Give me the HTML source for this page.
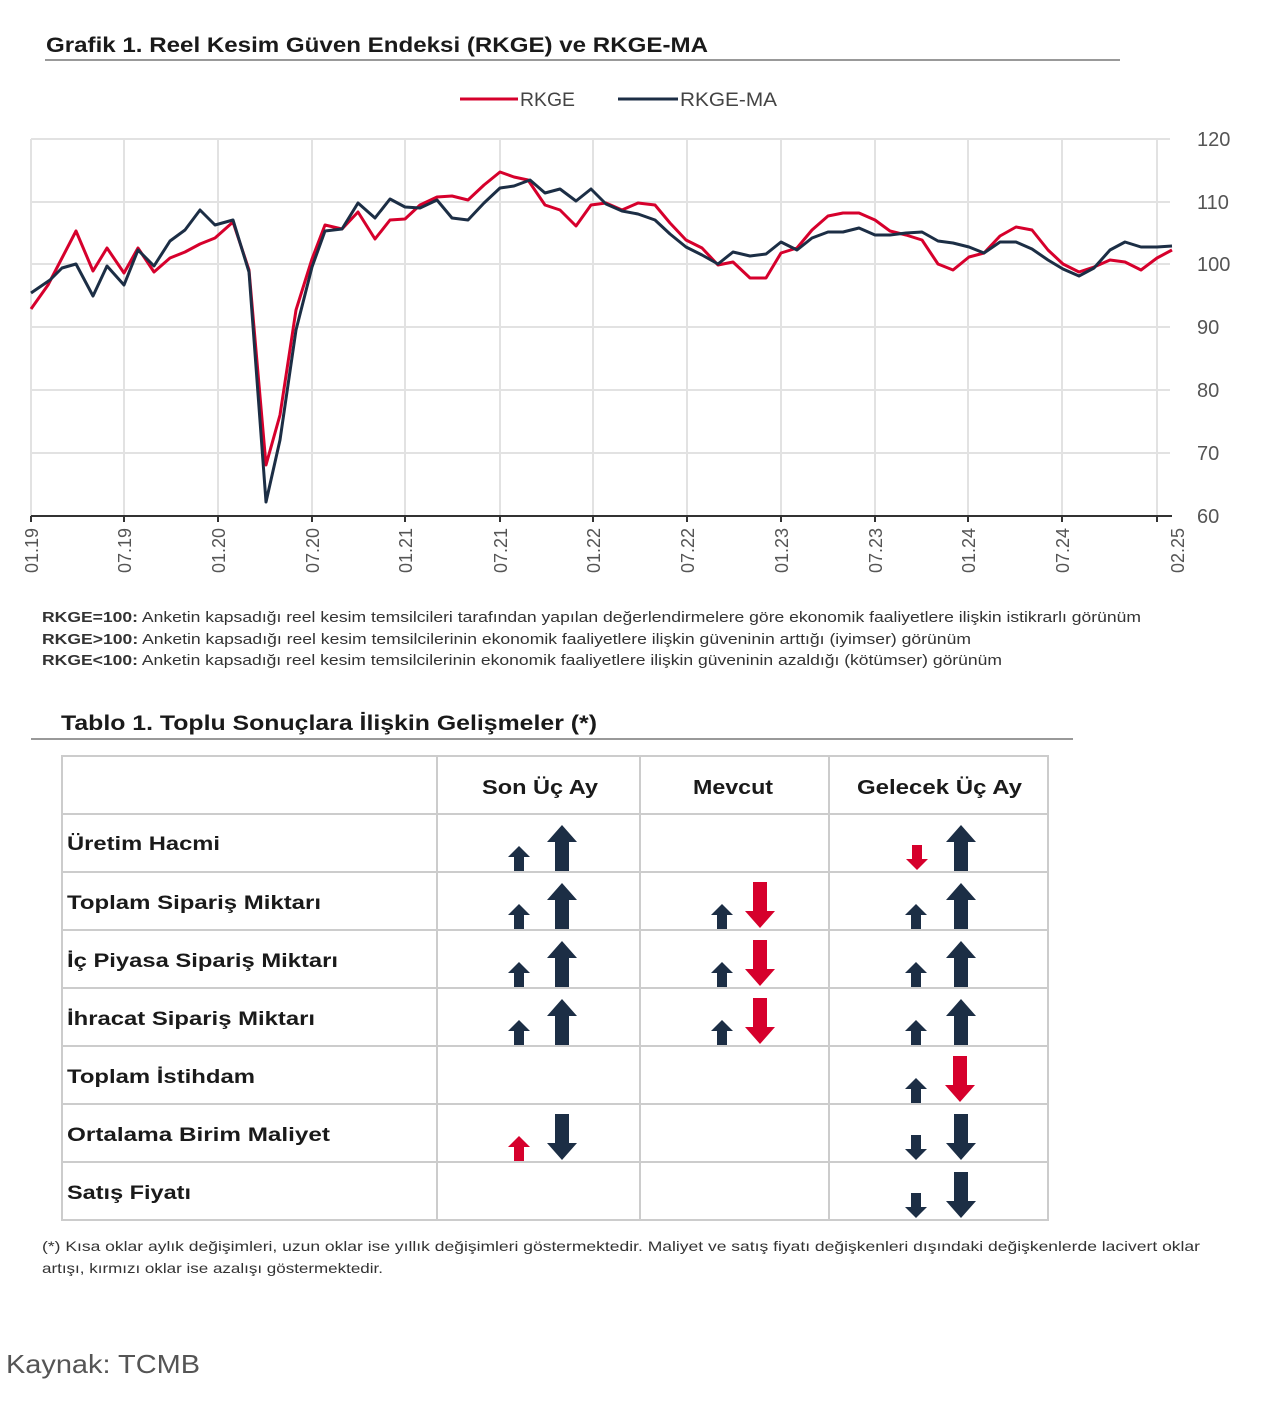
<!DOCTYPE html>
<html><head><meta charset="utf-8"><style>
html,body{margin:0;padding:0;background:#fff;}
svg{display:block;font-family:"Liberation Sans",sans-serif;}
</style></head><body>
<svg width="1280" height="1402" viewBox="0 0 1280 1402" xmlns="http://www.w3.org/2000/svg">
<rect width="1280" height="1402" fill="#fff"/>
<text x="46" y="52" font-size="21" font-weight="bold" fill="#1a1a1a" textLength="662" lengthAdjust="spacingAndGlyphs">Grafik 1. Reel Kesim Güven Endeksi (RKGE) ve RKGE-MA</text>
<line x1="45" y1="60" x2="1120" y2="60" stroke="#999" stroke-width="2"/>
<line x1="460" y1="99" x2="518" y2="99" stroke="#d6002c" stroke-width="3"/>
<text x="520" y="106" font-size="19" fill="#444" textLength="55" lengthAdjust="spacingAndGlyphs">RKGE</text>
<line x1="618" y1="99" x2="678" y2="99" stroke="#1c2e45" stroke-width="3"/>
<text x="680" y="106" font-size="19" fill="#444" textLength="97" lengthAdjust="spacingAndGlyphs">RKGE-MA</text>
<g stroke="#e2e2e2" stroke-width="2">
<line x1="31" y1="139" x2="1170" y2="139"/><line x1="31" y1="202" x2="1170" y2="202"/><line x1="31" y1="264" x2="1170" y2="264"/><line x1="31" y1="327" x2="1170" y2="327"/><line x1="31" y1="390" x2="1170" y2="390"/><line x1="31" y1="453" x2="1170" y2="453"/>
<line x1="31" y1="139" x2="31" y2="516"/><line x1="124" y1="139" x2="124" y2="516"/><line x1="218" y1="139" x2="218" y2="516"/><line x1="312" y1="139" x2="312" y2="516"/><line x1="405" y1="139" x2="405" y2="516"/><line x1="500" y1="139" x2="500" y2="516"/><line x1="593" y1="139" x2="593" y2="516"/><line x1="687" y1="139" x2="687" y2="516"/><line x1="781" y1="139" x2="781" y2="516"/><line x1="875" y1="139" x2="875" y2="516"/><line x1="968" y1="139" x2="968" y2="516"/><line x1="1062" y1="139" x2="1062" y2="516"/><line x1="1157" y1="139" x2="1157" y2="516"/>
</g>
<line x1="31" y1="516" x2="1172" y2="516" stroke="#333" stroke-width="2"/>
<g stroke="#333" stroke-width="2">
<line x1="31" y1="516" x2="31" y2="522"/><line x1="124" y1="516" x2="124" y2="522"/><line x1="218" y1="516" x2="218" y2="522"/><line x1="312" y1="516" x2="312" y2="522"/><line x1="405" y1="516" x2="405" y2="522"/><line x1="500" y1="516" x2="500" y2="522"/><line x1="593" y1="516" x2="593" y2="522"/><line x1="687" y1="516" x2="687" y2="522"/><line x1="781" y1="516" x2="781" y2="522"/><line x1="875" y1="516" x2="875" y2="522"/><line x1="968" y1="516" x2="968" y2="522"/><line x1="1062" y1="516" x2="1062" y2="522"/><line x1="1157" y1="516" x2="1157" y2="522"/>
</g>
<polyline fill="none" stroke="#d6002c" stroke-width="3" stroke-linejoin="round" points="31,309 48,285 62,258 76,231 93,271 107,248 124,273 138,248 154,272 170,258 185,252 200,244 215,238 233,222 249,270 266,465 280,415 296,310 312,259 325,225 342,229 358,212 375,239 390,220 405,219 420,205 437,197 452,196 468,200 484,185 500,172 514,177 528,180 545,205 560,210 576,226 591,205 606,203 622,210 638,203 655,205 670,223 686,240 702,248 718,265 733,262 750,278 766,278 781,253 797,248 812,230 828,216 843,213 859,213 875,220 890,231 906,235 922,240 938,264 953,270 969,257 984,253 1000,236 1016,227 1032,230 1048,250 1063,264 1079,272 1094,267 1110,260 1125,262 1141,270 1157,258 1172,250"/>
<polyline fill="none" stroke="#1c2e45" stroke-width="3" stroke-linejoin="round" points="31,293 50,280 62,268 76,264 93,296 107,266 124,285 138,250 154,266 170,241 185,230 200,210 215,225 233,220 249,272 266,502 280,440 296,330 312,267 325,231 342,229 358,203 375,218 390,199 405,207 420,208 437,200 452,218 468,220 484,203 500,188 514,186 530,180 545,193 560,189 576,201 591,189 606,204 622,211 638,214 655,220 670,234 686,247 702,255 718,264 733,252 750,256 766,254 781,242 797,250 812,238 828,232 843,232 859,228 875,235 890,235 906,233 922,232 938,241 953,243 969,247 984,253 1000,242 1016,242 1032,249 1048,260 1063,269 1079,276 1094,268 1110,250 1125,242 1141,247 1157,247 1172,246"/>
<g font-size="20" fill="#555">
<text x="1197" y="146">120</text><text x="1197" y="209">110</text><text x="1197" y="271">100</text><text x="1197" y="334">90</text><text x="1197" y="397">80</text><text x="1197" y="460">70</text><text x="1197" y="523">60</text>
</g>
<g font-size="18" fill="#555" text-anchor="end">
<text transform="translate(38,528) rotate(-90)">01.19</text><text transform="translate(131,528) rotate(-90)">07.19</text><text transform="translate(225,528) rotate(-90)">01.20</text><text transform="translate(319,528) rotate(-90)">07.20</text><text transform="translate(412,528) rotate(-90)">01.21</text><text transform="translate(507,528) rotate(-90)">07.21</text><text transform="translate(600,528) rotate(-90)">01.22</text><text transform="translate(694,528) rotate(-90)">07.22</text><text transform="translate(788,528) rotate(-90)">01.23</text><text transform="translate(882,528) rotate(-90)">07.23</text><text transform="translate(975,528) rotate(-90)">01.24</text><text transform="translate(1069,528) rotate(-90)">07.24</text><text transform="translate(1184,528) rotate(-90)">02.25</text>
</g>
<g font-size="14.5" fill="#333">
<text x="42" y="622" textLength="1099" lengthAdjust="spacingAndGlyphs"><tspan font-weight="bold">RKGE=100:</tspan> Anketin kapsadığı reel kesim temsilcileri tarafından yapılan değerlendirmelere göre ekonomik faaliyetlere ilişkin istikrarlı görünüm</text>
<text x="42" y="644" textLength="929" lengthAdjust="spacingAndGlyphs"><tspan font-weight="bold">RKGE&gt;100:</tspan> Anketin kapsadığı reel kesim temsilcilerinin ekonomik faaliyetlere ilişkin güveninin arttığı (iyimser) görünüm</text>
<text x="42" y="665" textLength="960" lengthAdjust="spacingAndGlyphs"><tspan font-weight="bold">RKGE&lt;100:</tspan> Anketin kapsadığı reel kesim temsilcilerinin ekonomik faaliyetlere ilişkin güveninin azaldığı (kötümser) görünüm</text>
</g>
<text x="61" y="730" font-size="21" font-weight="bold" fill="#1a1a1a" textLength="536" lengthAdjust="spacingAndGlyphs">Tablo 1. Toplu Sonuçlara İlişkin Gelişmeler (*)</text>
<line x1="31" y1="739" x2="1073" y2="739" stroke="#999" stroke-width="2"/>
<g stroke="#ccc" stroke-width="2" fill="none">
<rect x="62" y="756" width="986" height="464"/>
<line x1="62" y1="814" x2="1048" y2="814"/><line x1="62" y1="872" x2="1048" y2="872"/><line x1="62" y1="930" x2="1048" y2="930"/><line x1="62" y1="988" x2="1048" y2="988"/><line x1="62" y1="1046" x2="1048" y2="1046"/><line x1="62" y1="1104" x2="1048" y2="1104"/><line x1="62" y1="1162" x2="1048" y2="1162"/>
<line x1="437" y1="756" x2="437" y2="1220"/><line x1="640" y1="756" x2="640" y2="1220"/><line x1="829" y1="756" x2="829" y2="1220"/>
</g>
<g font-size="20" font-weight="bold" fill="#1a1a1a" lengthAdjust="spacingAndGlyphs">
<text x="482" y="794" textLength="116" lengthAdjust="spacingAndGlyphs">Son Üç Ay</text><text x="693" y="794" textLength="80" lengthAdjust="spacingAndGlyphs">Mevcut</text><text x="857" y="794" textLength="165" lengthAdjust="spacingAndGlyphs">Gelecek Üç Ay</text>
</g>
<g font-size="19" font-weight="bold" fill="#1a1a1a">
<text x="67" y="850" textLength="153" lengthAdjust="spacingAndGlyphs">Üretim Hacmi</text><text x="67" y="909" textLength="254" lengthAdjust="spacingAndGlyphs">Toplam Sipariş Miktarı</text><text x="67" y="967" textLength="271" lengthAdjust="spacingAndGlyphs">İç Piyasa Sipariş Miktarı</text><text x="67" y="1025" textLength="248" lengthAdjust="spacingAndGlyphs">İhracat Sipariş Miktarı</text><text x="67" y="1083" textLength="188" lengthAdjust="spacingAndGlyphs">Toplam İstihdam</text><text x="67" y="1141" textLength="263" lengthAdjust="spacingAndGlyphs">Ortalama Birim Maliyet</text><text x="67" y="1199" textLength="124" lengthAdjust="spacingAndGlyphs">Satış Fiyatı</text>
</g>
<g fill="#1c2e45">
<path d="M514 871V857H508L519 846L530 857H524V871Z"/><path d="M555 871V842H547L562 825L577 842H569V871Z"/><path d="M954 871V842H946L961 825L976 842H968V871Z"/>
</g>
<path fill="#d6002c" d="M912 845V859H906L917 870L928 859H922V845Z"/>
<g id="r2">
<path fill="#1c2e45" d="M514 929V915H508L519 904L530 915H524V929Z"/><path fill="#1c2e45" d="M555 929V900H547L562 883L577 900H569V929Z"/>
<path fill="#1c2e45" d="M717 929V915H711L722 904L733 915H727V929Z"/><path fill="#d6002c" d="M753 882V911H745L760 928L775 911H767V882Z"/>
<path fill="#1c2e45" d="M911 929V915H905L916 904L927 915H921V929Z"/><path fill="#1c2e45" d="M954 929V900H946L961 883L976 900H968V929Z"/>
</g>
<use href="#r2" transform="translate(0,58)"/>
<use href="#r2" transform="translate(0,116)"/>
<path fill="#1c2e45" d="M911 1103V1089H905L916 1078L927 1089H921V1103Z"/><path fill="#d6002c" d="M953 1056V1085H945L960 1102L975 1085H967V1056Z"/>
<path fill="#d6002c" d="M514 1161V1147H508L519 1136L530 1147H524V1161Z"/>
<path fill="#1c2e45" d="M555 1114V1143H547L562 1160L577 1143H569V1114Z"/>
<g id="g6" fill="#1c2e45"><path d="M911 1135V1149H905L916 1160L927 1149H921V1135Z"/><path d="M954 1114V1143H946L961 1160L976 1143H968V1114Z"/></g>
<use href="#g6" transform="translate(0,58)"/>
<g font-size="14" fill="#333">
<text x="42" y="1251" textLength="1158" lengthAdjust="spacingAndGlyphs">(*)  Kısa oklar aylık değişimleri, uzun oklar ise yıllık değişimleri göstermektedir. Maliyet ve satış fiyatı değişkenleri dışındaki değişkenlerde lacivert oklar</text>
<text x="42" y="1273" textLength="341" lengthAdjust="spacingAndGlyphs">artışı, kırmızı oklar ise azalışı göstermektedir.</text>
</g>
<text x="6" y="1373" font-size="26" fill="#555" textLength="194" lengthAdjust="spacingAndGlyphs">Kaynak: TCMB</text>
</svg>
</body></html>
